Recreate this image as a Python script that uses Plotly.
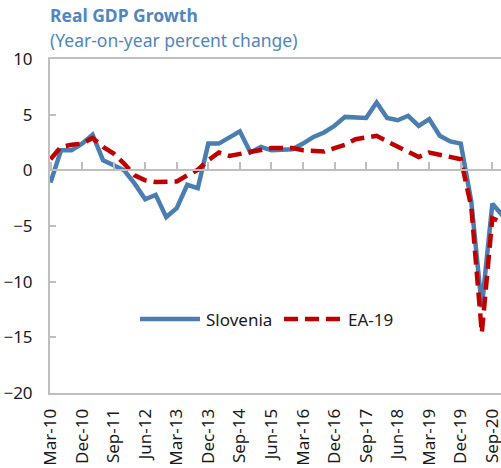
import plotly.graph_objects as go

# ---- data ----
months = ["Mar", "Jun", "Sep", "Dec"]
years = list(range(10, 21))
quarters = [f"{m}-{y:02d}" for y in years for m in months]  # Mar-10 .. Dec-20

slovenia = [-1.1, 1.8, 1.8, 2.4, 3.2, 0.9, 0.45, 0.0, -1.2, -2.6, -2.2, -4.2,
            -3.4, -1.3, -1.6, 2.4, 2.4, 2.9, 3.5, 1.6, 2.1, 1.8, 1.8, 1.9,
            2.4, 3.0, 3.4, 4.0, 4.8, 4.8, 4.7, 6.1, 4.7, 4.5, 4.9, 4.0,
            4.6, 3.1, 2.6, 2.4, -2.8, -12.3, -3.0, -4.1]
ea19 = [1.0, 2.1, 2.3, 2.4, 2.9, 2.1, 1.5, 0.6, -0.45, -0.9, -1.05, -1.05,
        -1.0, -0.45, 0.05, 0.9, 1.6, 1.3, 1.45, 1.6, 1.8, 2.0, 2.0, 2.0,
        1.8, 1.7, 1.7, 2.0, 2.3, 2.8, 3.0, 3.1, 2.6, 2.1, 1.6, 1.2,
        1.6, 1.4, 1.3, 1.0, -3.3, -14.6, -4.3, -4.7]

tick_labels = ["Mar-10", "Dec-10", "Sep-11", "Jun-12", "Mar-13", "Dec-13", "Sep-14",
               "Jun-15", "Mar-16", "Dec-16", "Sep-17", "Jun-18", "Mar-19", "Dec-19", "Sep-20"]
y_ticks = [-20, -15, -10, -5, 0, 5, 10]

x_idx = list(range(len(quarters)))
tick_idx = [quarters.index(t) for t in tick_labels]

BLUE = "#4A7EB0"
RED = "#C00000"
TITLE = "#4F86BE"
GRAY = "#BFBFBF"
FONT = "Noto Sans"

W, H = 501, 468
ML, MT, MB, MR = 50, 59, 75, 0
plot_w = W - ML - MR
plot_h = H - MT - MB
px_per_q = 10.52
x0 = -0.5 / px_per_q
x1 = x0 + plot_w / px_per_q

fig = go.Figure()
fig.add_trace(go.Scatter(x=x_idx, y=slovenia, mode="lines", name="Slovenia",
                         line=dict(color=BLUE, width=4.5), showlegend=False))
fig.add_trace(go.Scatter(x=x_idx, y=ea19, mode="lines", name="EA-19",
                         line=dict(color=RED, width=4.5, dash="14px,7px"), showlegend=False))
# invisible trace on secondary x axis (zero-line ticks)
fig.add_trace(go.Scatter(x=x_idx, y=slovenia, xaxis="x2", mode="lines",
                         line=dict(width=0), hoverinfo="skip", showlegend=False, opacity=0))

fig.update_layout(
    width=W, height=H,
    margin=dict(l=ML, r=MR, t=MT, b=MB, autoexpand=False),
    plot_bgcolor="white", paper_bgcolor="white",
    font=dict(family=FONT, size=17, color="#1a1a1a"),
    xaxis=dict(range=[x0, x1], tickmode="array", tickvals=tick_idx, ticktext=tick_labels,
               tickangle=-90, ticks="", showgrid=False, zeroline=False, automargin=False,
               showline=True, linecolor=GRAY, linewidth=2, mirror=True,
               ticklabelstandoff=7, ticklabeloverflow="allow", tickfont=dict(size=17)),
    xaxis2=dict(range=[x0, x1], overlaying="x", anchor="free", position=20 / 30,
                side="top", tickmode="array", tickvals=tick_idx, showticklabels=False,
                ticks="outside", ticklen=7, tickwidth=2, tickcolor=GRAY, automargin=False,
                showline=True, linecolor=GRAY, linewidth=2, showgrid=False, zeroline=False),
    yaxis=dict(range=[-20, 10], tickmode="array", tickvals=y_ticks, ticks="inside",
               ticklen=6, tickwidth=2, tickcolor=GRAY, showgrid=False, zeroline=False,
               showline=True, linecolor=GRAY, linewidth=2, automargin=False,
               ticklabelstandoff=12, tickfont=dict(size=17)),
)

def px2paper_x(px):
    return (px - ML) / plot_w

def px2paper_y(py):
    return (H - MB - py) / plot_h

# titles
fig.add_annotation(text="<b>Real GDP Growth</b>", xref="paper", yref="paper",
                   x=px2paper_x(48), y=px2paper_y(15), xanchor="left", yanchor="middle",
                   showarrow=False, font=dict(size=17.5, color=TITLE, family=FONT))
fig.add_annotation(text="(Year-on-year percent change)", xref="paper", yref="paper",
                   x=px2paper_x(48), y=px2paper_y(40), xanchor="left", yanchor="middle",
                   showarrow=False, font=dict(size=17.5, color=TITLE, family=FONT))

# custom legend
ly = px2paper_y(319)
fig.add_shape(type="line", xref="paper", yref="paper", x0=px2paper_x(140), x1=px2paper_x(200),
              y0=ly, y1=ly, line=dict(color=BLUE, width=4.5))
fig.add_annotation(text="Slovenia", xref="paper", yref="paper", x=px2paper_x(204), y=ly,
                   xanchor="left", yanchor="middle", showarrow=False,
                   font=dict(size=17, color="#1a1a1a", family=FONT))
fig.add_shape(type="line", xref="paper", yref="paper", x0=px2paper_x(284), x1=px2paper_x(345),
              y0=ly, y1=ly, line=dict(color=RED, width=4.5, dash="14px,7px"))
fig.add_annotation(text="EA-19", xref="paper", yref="paper", x=px2paper_x(346), y=ly,
                   xanchor="left", yanchor="middle", showarrow=False,
                   font=dict(size=17, color="#1a1a1a", family=FONT))

fig.write_html("out.html", config={"displayModeBar": False},
               post_script="document.body.style.margin='0';document.body.style.overflow='hidden';")
